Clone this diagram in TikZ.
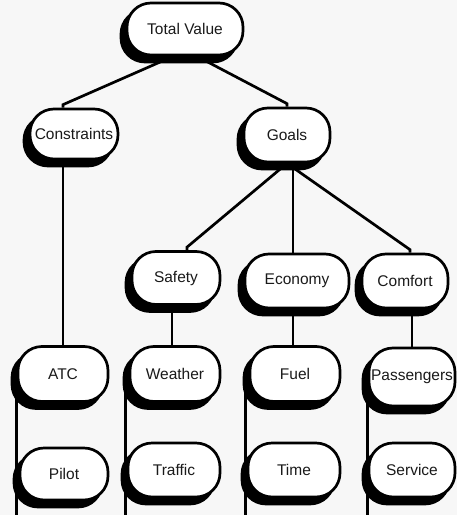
\documentclass[tikz,border=0pt]{standalone}
\usepackage{fontspec}
\setmainfont{Liberation Sans}
\definecolor{paper}{HTML}{F7F7F7}
\definecolor{ink}{HTML}{1A1A1A}
\pgfdeclarelayer{paperlayer}
\pgfdeclarelayer{linklayer}
\pgfsetlayers{paperlayer,linklayer,main}
\begin{document}
\begin{tikzpicture}[x=1pt,y=1pt,
  box/.style={draw=black, line width=2.7pt, fill=white, rounded corners=24pt,
    minimum width=88pt, minimum height=53pt, inner sep=0pt, text=ink,
    font=\fontsize{15.5}{18}\selectfont,
    preaction={draw=black, fill=black, transform canvas={shift={(-6pt,-7pt)}}}},
  link/.style={line width=2.7pt, draw=black}]

% hierarchy of value terms
\node[box, minimum width=116pt, minimum height=52pt] (tv) at (185,-29) {Total Value};
\node[box, minimum height=50pt] (con) at (74,-134) {Constraints};
\node[box, minimum width=86pt, minimum height=54pt] (goals) at (287,-135) {Goals};

\node[box] (safety) at (176,-278) {Safety};
\node[box, minimum width=104pt, minimum height=54pt] (economy) at (297,-281) {Economy};
\node[box, minimum width=86pt, minimum height=54pt] (comfort) at (405,-281) {Comfort};

\node[box, minimum width=90pt, minimum height=55pt] (atc) at (63,-374) {ATC};
\node[box, minimum width=90pt, minimum height=55pt] (weather) at (175,-374) {Weather};
\node[box, minimum width=90pt, minimum height=55pt] (fuel) at (295,-374) {Fuel};
\node[box, minimum width=86pt, minimum height=58pt] (pass) at (412,-377) {Passengers};

\node[box, minimum height=52pt] (pilot) at (64,-474) {Pilot};
\node[box, minimum width=92pt, minimum height=54pt] (traffic) at (174,-470) {Traffic};
\node[box, minimum width=92pt, minimum height=54pt] (time) at (294,-470) {Time};
\node[box, minimum width=86pt, minimum height=54pt] (service) at (412,-470) {Service};

\coordinate (bot) at (0,-515);

\begin{pgfonlayer}{paperlayer}
  \fill[paper] (0,0) rectangle (457,-515);
\end{pgfonlayer}
\useasboundingbox (0,0) rectangle (457,-515);

\begin{pgfonlayer}{linklayer}
  % top level
  \draw[link] ([xshift=-12pt]tv.south) -- ([yshift=3pt]con.north -| atc.north) -- (con.north -| atc.north);
  \draw[link] ([xshift=12pt]tv.south) -- ([yshift=3pt]goals.north) -- (goals.north);
  \draw[link] (atc.north |- con.south) -- (atc.north);
  % goals
  \draw[link] (goals.south) -- ([xshift=11pt,yshift=3pt]safety.north) -- ([xshift=11pt]safety.north);
  \draw[link] ([xshift=-4pt]economy.north |- goals.south) -- ([xshift=-4pt]economy.north);
  \draw[link] (goals.south) -- ([xshift=5pt,yshift=3pt]comfort.north) -- ([xshift=5pt]comfort.north);
  % second level
  \draw[link] ([xshift=-3pt]weather.north |- safety.south) -- ([xshift=-3pt]weather.north);
  \draw[link] ([xshift=-2pt]fuel.north |- economy.south) -- ([xshift=-2pt]fuel.north);
  \draw[link] (pass.north |- comfort.south) -- (pass.north);
  % hanging side lines
  \draw[link] (atc.west) -- (atc.west |- bot);
  \draw[link] ([xshift=-3pt]weather.west) -- ([xshift=-3pt]weather.west |- bot);
  \draw[link] ([xshift=-3pt]fuel.west) -- ([xshift=-3pt]fuel.west |- bot);
  \draw[link] (pass.west) -- (pass.west |- bot);
\end{pgfonlayer}
\end{tikzpicture}
\end{document}
